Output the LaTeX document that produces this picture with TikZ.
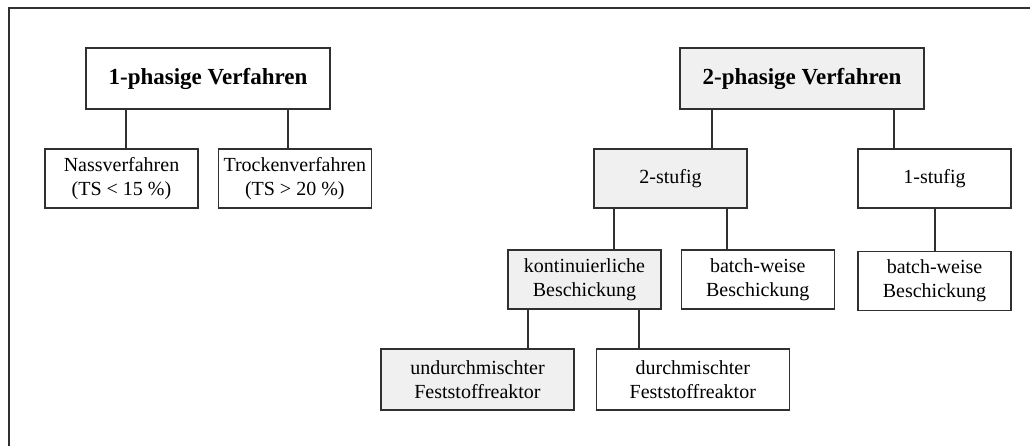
\documentclass[tikz,border=0pt]{standalone}
\usepackage{fontspec}
\setmainfont{Liberation Serif}
\usetikzlibrary{positioning}
\definecolor{boxline}{HTML}{303030}
\definecolor{boxgray}{HTML}{F0F0F0}
\tikzstyle{verfahren}=[draw=boxline, line width=1.3pt, fill=white, align=center, inner sep=0pt,
  minimum width=153pt, minimum height=59pt, font=\fontsize{20}{23.5}\selectfont]
\tikzstyle{haupt}=[verfahren, minimum width=244pt, minimum height=61pt, font=\fontsize{23}{27}\selectfont\bfseries]
\tikzstyle{reaktor}=[verfahren, minimum width=193pt, minimum height=61pt]
\tikzstyle{grau}=[fill=boxgray]
\tikzstyle{ast}=[draw=boxline, line width=1.3pt]

\begin{document}
\begin{tikzpicture}[x=1pt, y=1pt]
  \useasboundingbox (0,0) rectangle (1030,-446);
  \draw[boxline, line width=2pt] (9,-446) -- (9,-8) -- (1030,-8);
  % 1-phasig
  \node[haupt] (p1) at (208,-78.5) {1-phasige Verfahren};
  \node[verfahren] (nass) at (121.5,-178.5) {Nassverfahren\\(TS < 15 \%)};
  \node[verfahren] (trocken) [right=19pt of nass] {Trockenverfahren\\(TS > 20 \%)};
  % 2-phasig
  \node[haupt,grau] (p2) at (802,-78.5) {2-phasige Verfahren};
  \node[verfahren,grau] (s2) at (670.5,-178.5) {2-stufig};
  \node[verfahren] (s1) at (934.5,-178.5) {1-stufig};
  \node[verfahren,grau] (kont) at (584.5,-279.5) {kontinuierliche\\Beschickung};
  \node[verfahren] (batch1) [right=19pt of kont] {batch-weise\\Beschickung};
  \node[verfahren] (batch2) [below=42pt of s1] {batch-weise\\Beschickung};
  \node[reaktor,grau] (undurch) at (477.5,-379.5) {undurchmischter\\Feststoffreaktor};
  \node[reaktor] (durch) [right=21pt of undurch] {durchmischter\\Feststoffreaktor};
  % Verbindungen
  \path[ast] ([xshift=-82pt]p1.south) edge ([xshift=-82pt]p1.south |- nass.north)
             ([xshift=80pt]p1.south) edge ([xshift=80pt]p1.south |- trocken.north);
  \path[ast] ([xshift=-90pt]p2.south) edge ([xshift=-90pt]p2.south |- s2.north)
             ([xshift=92pt]p2.south) edge ([xshift=92pt]p2.south |- s1.north);
  \path[ast] ([xshift=-56.5pt]s2.south) edge ([xshift=-56.5pt]s2.south |- kont.north)
             ([xshift=56.5pt]s2.south) edge ([xshift=56.5pt]s2.south |- batch1.north);
  \path[ast] ([xshift=0.5pt]s1.south) edge ([xshift=0.5pt]batch2.north);
  \path[ast] ([xshift=-56.5pt]kont.south) edge ([xshift=-56.5pt]kont.south |- undurch.north)
             ([xshift=54.5pt]kont.south) edge ([xshift=54.5pt]kont.south |- durch.north);
\end{tikzpicture}
\end{document}
